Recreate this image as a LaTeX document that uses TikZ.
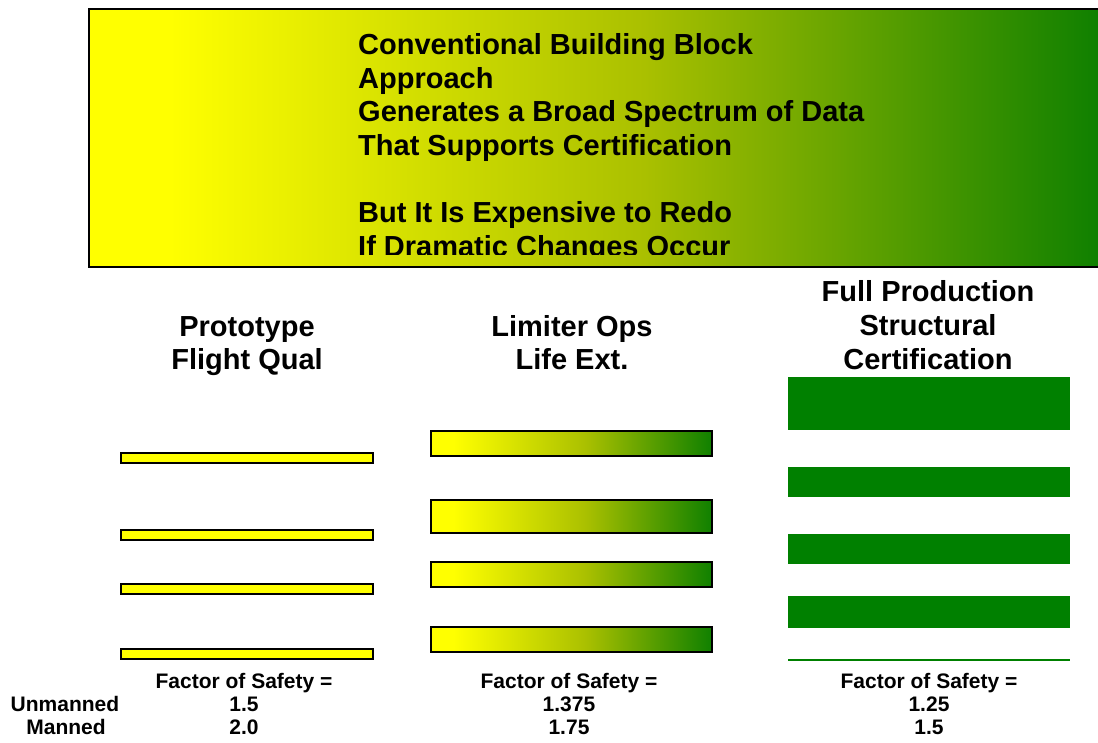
\documentclass[tikz,border=0pt]{standalone}
\usepackage{fontspec}
\setmainfont{Liberation Sans}
\definecolor{fgreen}{RGB}{0,128,0}
\definecolor{gend}{RGB}{16,128,0}
\definecolor{golive}{RGB}{170,192,0}
\definecolor{fyellow}{RGB}{255,255,0}
\pgfdeclarehorizontalshading{yg}{100bp}{color(0bp)=(fyellow); color(29bp)=(fyellow); color(52.5bp)=(golive); color(75bp)=(gend); color(100bp)=(gend)}
\tikzset{
  big/.style={font=\bfseries\fontsize{29}{34}\selectfont, inner sep=0pt},
  small/.style={font=\bfseries\fontsize{21}{24}\selectfont, inner sep=0pt},
  thinbar/.style={fill=fyellow, draw=black, line width=1.5pt},
  gradbar/.style={shade, shading=yg, draw=black, line width=1.5pt},
  solidbar/.style={fill=fgreen},
}
\begin{document}
\begin{tikzpicture}[x=1pt,y=-1pt]
\useasboundingbox (0,0) rectangle (1098,742);
\clip (0,0) rectangle (1098,742);
% banner
\shade[shading=yg] (89,9) rectangle (1098,267);
\draw[line width=2pt] (89,9) rectangle (1120,267);
\begin{scope}
  \clip (89,9) rectangle (1098,254);
  \node[big, anchor=base west] (b1) at (358,54) {Conventional Building Block};
  \node[big, anchor=base west] (b2) at (358,88) {Approach};
  \node[big, anchor=base west] (b3) at (358,121) {Generates a Broad Spectrum of Data};
  \node[big, anchor=base west] (b4) at (358,155) {That Supports Certification};
  \node[big, anchor=base west] (b5) at (358,222) {But It Is Expensive to Redo};
  \node[big, anchor=base west] (b6) at (358,256) {If Dramatic Changes Occur};
\end{scope}
% column headers
\node[big, anchor=base] (h1a) at (247,336) {Prototype};
\node[big, anchor=base] (h1b) at (247,369) {Flight Qual};
\node[big, anchor=base] (h2a) at (572,336) {Limiter Ops};
\node[big, anchor=base] (h2b) at (572,369) {Life Ext.};
\node[big, anchor=base] (h3a) at (928,301) {Full Production};
\node[big, anchor=base] (h3b) at (928,335) {Structural};
\node[big, anchor=base] (h3c) at (928,369) {Certification};
% column 1 bars
\draw[thinbar] (121,453) rectangle (373,463);
\draw[thinbar] (121,530) rectangle (373,540);
\draw[thinbar] (121,584) rectangle (373,594);
\draw[thinbar] (121,649) rectangle (373,659);
% column 2 bars
\draw[gradbar] (431,431) rectangle (712,456);
\draw[gradbar] (431,500) rectangle (712,533);
\draw[gradbar] (431,562) rectangle (712,587);
\draw[gradbar] (431,627) rectangle (712,652);
% column 3 bars
\fill[solidbar] (788,377) rectangle (1070,430);
\fill[solidbar] (788,467) rectangle (1070,497);
\fill[solidbar] (788,534) rectangle (1070,564);
\fill[solidbar] (788,596) rectangle (1070,628);
\fill[solidbar] (788,659) rectangle (1070,661);
% bottom labels
\node[small, anchor=base] (f1) at (244,688) {Factor of Safety =};
\node[small, anchor=base] (f1u) at (244,711) {1.5};
\node[small, anchor=base] (f1m) at (244,734) {2.0};
\node[small, anchor=base] (f2) at (569,688) {Factor of Safety =};
\node[small, anchor=base] (f2u) at (569,711) {1.375};
\node[small, anchor=base] (f2m) at (569,734) {1.75};
\node[small, anchor=base] (f3) at (929,688) {Factor of Safety =};
\node[small, anchor=base] (f3u) at (929,711) {1.25};
\node[small, anchor=base] (f3m) at (929,734) {1.5};
\node[small, anchor=base] (un) at (65,711) {Unmanned};
\node[small, anchor=base] (mn) at (66,734) {Manned};
\end{tikzpicture}
\end{document}
